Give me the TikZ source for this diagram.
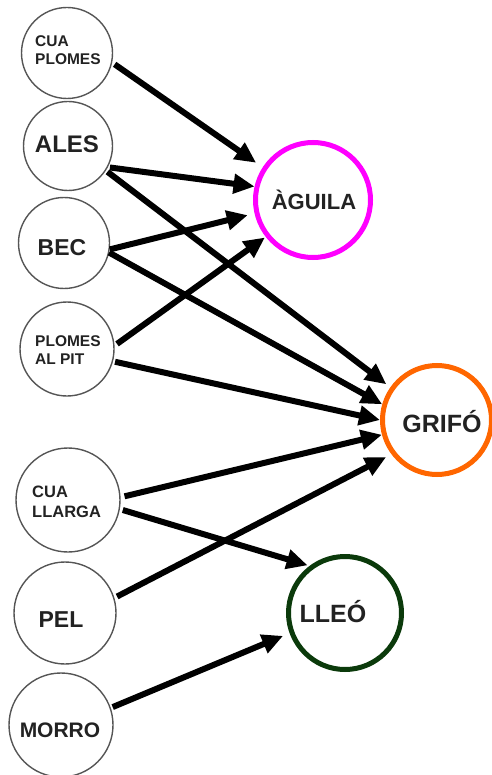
\documentclass[tikz,border=0pt]{standalone}
\usepackage{fontspec}
\setmainfont{Liberation Sans}
\usetikzlibrary{arrows.meta}
\definecolor{inkgray}{HTML}{222222}
\definecolor{ringgray}{HTML}{555555}
\definecolor{aguilaring}{HTML}{FF00FF}
\definecolor{grifo ring}{HTML}{FF6600}
\definecolor{lleoring}{HTML}{0B3A0B}
\begin{document}
\begin{tikzpicture}[x=1pt,y=-1pt,
  trait/.style={circle,draw=ringgray,line width=1.4pt,inner sep=0pt,minimum size=#1},
  animal/.style={circle,line width=5pt,inner sep=0pt,minimum size=#1},
  lbl/.style={inner sep=0pt,text=inkgray,anchor=base,font=\bfseries\fontsize{#1}{#1}\selectfont},
  lbltwo/.style={inner sep=0pt,text=inkgray,anchor=west,align=left,font=\bfseries\fontsize{#1}{18}\selectfont},
  link/.style={line width=6pt,-{Triangle[length=21pt,width=19pt]}},
]
\useasboundingbox (0,0) rectangle (491,775);

% traits (left column)
\node[trait=91pt]  (cp)    at (67,53)   {};
\node[trait=89pt]  (ales)  at (68,146)  {};
\node[trait=91pt]  (bec)   at (64,243)  {};
\node[trait=94pt]  (pap)   at (67,349)  {};
\node[trait=104pt] (cl)    at (68,500)  {};
\node[trait=102pt] (pel)   at (65,613)  {};
\node[trait=104pt] (morro) at (61,725)  {};

\node[lbltwo=15.5] (cpT)    at (35,50)  {CUA\\PLOMES};
\node[lbl=24]      (alesT)  at (67,153) {ALES};
\node[lbl=23]      (becT)   at (62,255) {BEC};
\node[lbltwo=15.5] (papT)   at (35,350) {PLOMES\\AL PIT};
\node[lbltwo=16.5,font=\bfseries\fontsize{16.5}{20}\selectfont] (clT) at (32,502) {CUA\\LLARGA};
\node[lbl=23]      (pelT)   at (61,627) {PEL};
\node[lbl=21]      (morroT) at (60,737) {MORRO};

% animals (right column)
\node[animal=115pt,draw=aguilaring] (aguila) at (313,200) {};
\node[animal=109pt,draw=grifo ring] (grifo)  at (437,420) {};
\node[animal=113pt,draw=lleoring]   (lleo)   at (345,613) {};

\node[lbl=22] (aguilaT) at (314,210) {ÀGUILA};
\node[lbl=25] (grifoT)  at (442,432) {GRIFÓ};
\node[lbl=25] (lleoT)   at (333,622) {LLEÓ};

% links
\draw[link,shorten <=3pt,shorten >=8pt] (cp.-12)    -- (aguila.147);
\draw[link,shorten <=2pt,shorten >=0pt] (ales.-28)  -- (aguila.167);
\draw[link,shorten <=2pt,shorten >=5pt] (ales.-33)  -- (grifo.145.5);
\draw[link,shorten <=0pt,shorten >=7pt] (bec.-8)    -- (aguila.193);
\draw[link,shorten <=0pt,shorten >=0pt] (bec.-12)   -- (grifo.164.5);
\draw[link,shorten <=3pt,shorten >=1pt] (pap.4.5)   -- (aguila.218);
\draw[link,shorten <=2pt,shorten >=0pt] (pap.-15)   -- (grifo.180);
\draw[link,shorten <=4pt,shorten >=0pt] (cl.3)      -- (grifo.195.5);
\draw[link,shorten <=3pt,shorten >=2pt] (cl.-10)    -- (lleo.127.6);
\draw[link,shorten <=3pt,shorten >=6pt] (pel.17)    -- (grifo.217);
\draw[link,shorten <=2pt,shorten >=7pt] (morro.19)  -- (lleo.200.4);
\end{tikzpicture}
\end{document}
